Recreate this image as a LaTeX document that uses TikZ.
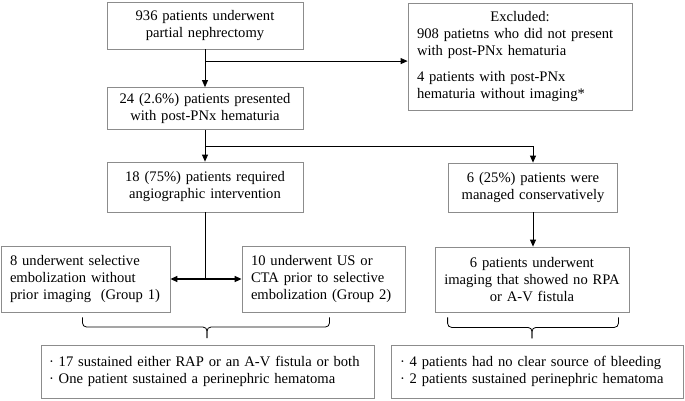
\documentclass[tikz,border=0pt]{standalone}
\usepackage{fontspec}
\setmainfont{Liberation Serif}
\usetikzlibrary{arrows.meta,positioning,calc}
\definecolor{BoxGray}{RGB}{140,140,140}
\tikzset{
  box/.style={draw=BoxGray,line width=0.8pt,inner xsep=0pt,inner ysep=0pt,
              font=\fontsize{14.6}{17}\selectfont,align=center},
  lbox/.style={box,align=left,inner xsep=9pt},
  flow/.style={-{Triangle[length=7pt,width=6pt]},line width=0.8pt},
  link/.style={line width=0.8pt},
  dual/.style={{Triangle[length=7pt,width=6pt]}-{Triangle[length=7pt,width=6pt]},line width=1.4pt},
  bkt/.style={line width=0.8pt,rounded corners=4pt},
}

\begin{document}
\begin{tikzpicture}[x=1pt,y=-1pt]
  \useasboundingbox (0,0) rectangle (685,400);

  % top of the flow
  \node[box,text width=196pt,minimum height=47pt] (pn) at (205,25.5)
    {936 patients underwent\\partial nephrectomy};
  \node[box,text width=196pt,minimum height=42pt] (hem) at (205,108.5)
    {24 (2.6\%) patients presented\\with post-PNx hematuria};
  \node[lbox,text width=206pt,minimum height=107pt] (excl) at (520,56.5)
    {\makebox[\hsize]{Excluded:}\\908 patietns who did not present\\with post-PNx hematuria\\[9pt]
     4 patients with post-PNx\\hematuria without imaging*};

  % second row
  \node[box,text width=196pt,minimum height=50pt] (angio) at (205,187)
    {18 (75\%) patients required\\angiographic intervention};
  \node[box,text width=169pt,minimum height=49pt] (cons) at (533,187.5)
    {6 (25\%) patients were\\managed conservatively};

  % third row
  \node[lbox,text width=151pt,minimum height=66pt] (grp1) at (85.5,279)
    {8 underwent selective\\embolization without\\prior imaging\ \ (Group 1)};
  \node[lbox,text width=145pt,minimum height=66pt] (grp2) at (323.5,279)
    {10 underwent US or\\CTA prior to selective\\embolization (Group 2)};
  \node[box,text width=194pt,minimum height=65pt] (img) at (532,279.5)
    {6 patients underwent\\imaging that showed no RPA\\or A-V fistula};

  % outcomes
  \node[lbox,inner xsep=8pt,text width=317pt,minimum height=53pt] (resl) at (207.5,371.5)
    {· 17 sustained either RAP or an A-V fistula or both\\· One patient sustained a perinephric hematoma};
  \node[lbox,text width=274pt,minimum height=53pt] (resr) at (537,371.5)
    {· 4 patients had no clear source of bleeding\\· 2 patients sustained perinephric hematoma};

  \coordinate (j1) at ($(pn.south)!0.31!(hem.north)$);
  \coordinate (j2) at (205,146);

  \draw[flow] (pn) -- (hem);
  \draw[flow] (j1) -- (j1 -| excl.west);
  \draw[flow] (hem) -- (angio);
  \draw[flow] (j2) -| (cons.north);
  \draw[flow] (cons) -- (cons |- img.north);
  \draw[link] (angio) -- (angio |- grp1.east);
  \draw[dual] (grp1) -- (grp2);

  % brackets over the outcomes
  \coordinate (b1l) at ($(grp1.south)+(-3,5)$);
  \coordinate (b1r) at ($(grp2.south)+(6,5)$);
  \coordinate (b1t) at (207,338);
  \coordinate (b2l) at ($(img.south west)+(13,5)$);
  \coordinate (b2r) at ($(img.south east)+(-11,5)$);
  \coordinate (b2t) at ($(img.south)+(0,26)$);
  \foreach \s in {l,r} {
    \draw[bkt] (b1\s) |- ($(b1t)+(0,-11)$) -- (b1t);
    \draw[bkt] (b2\s) |- ($(b2t)+(0,-11)$) -- (b2t);
  }
\end{tikzpicture}
\end{document}
